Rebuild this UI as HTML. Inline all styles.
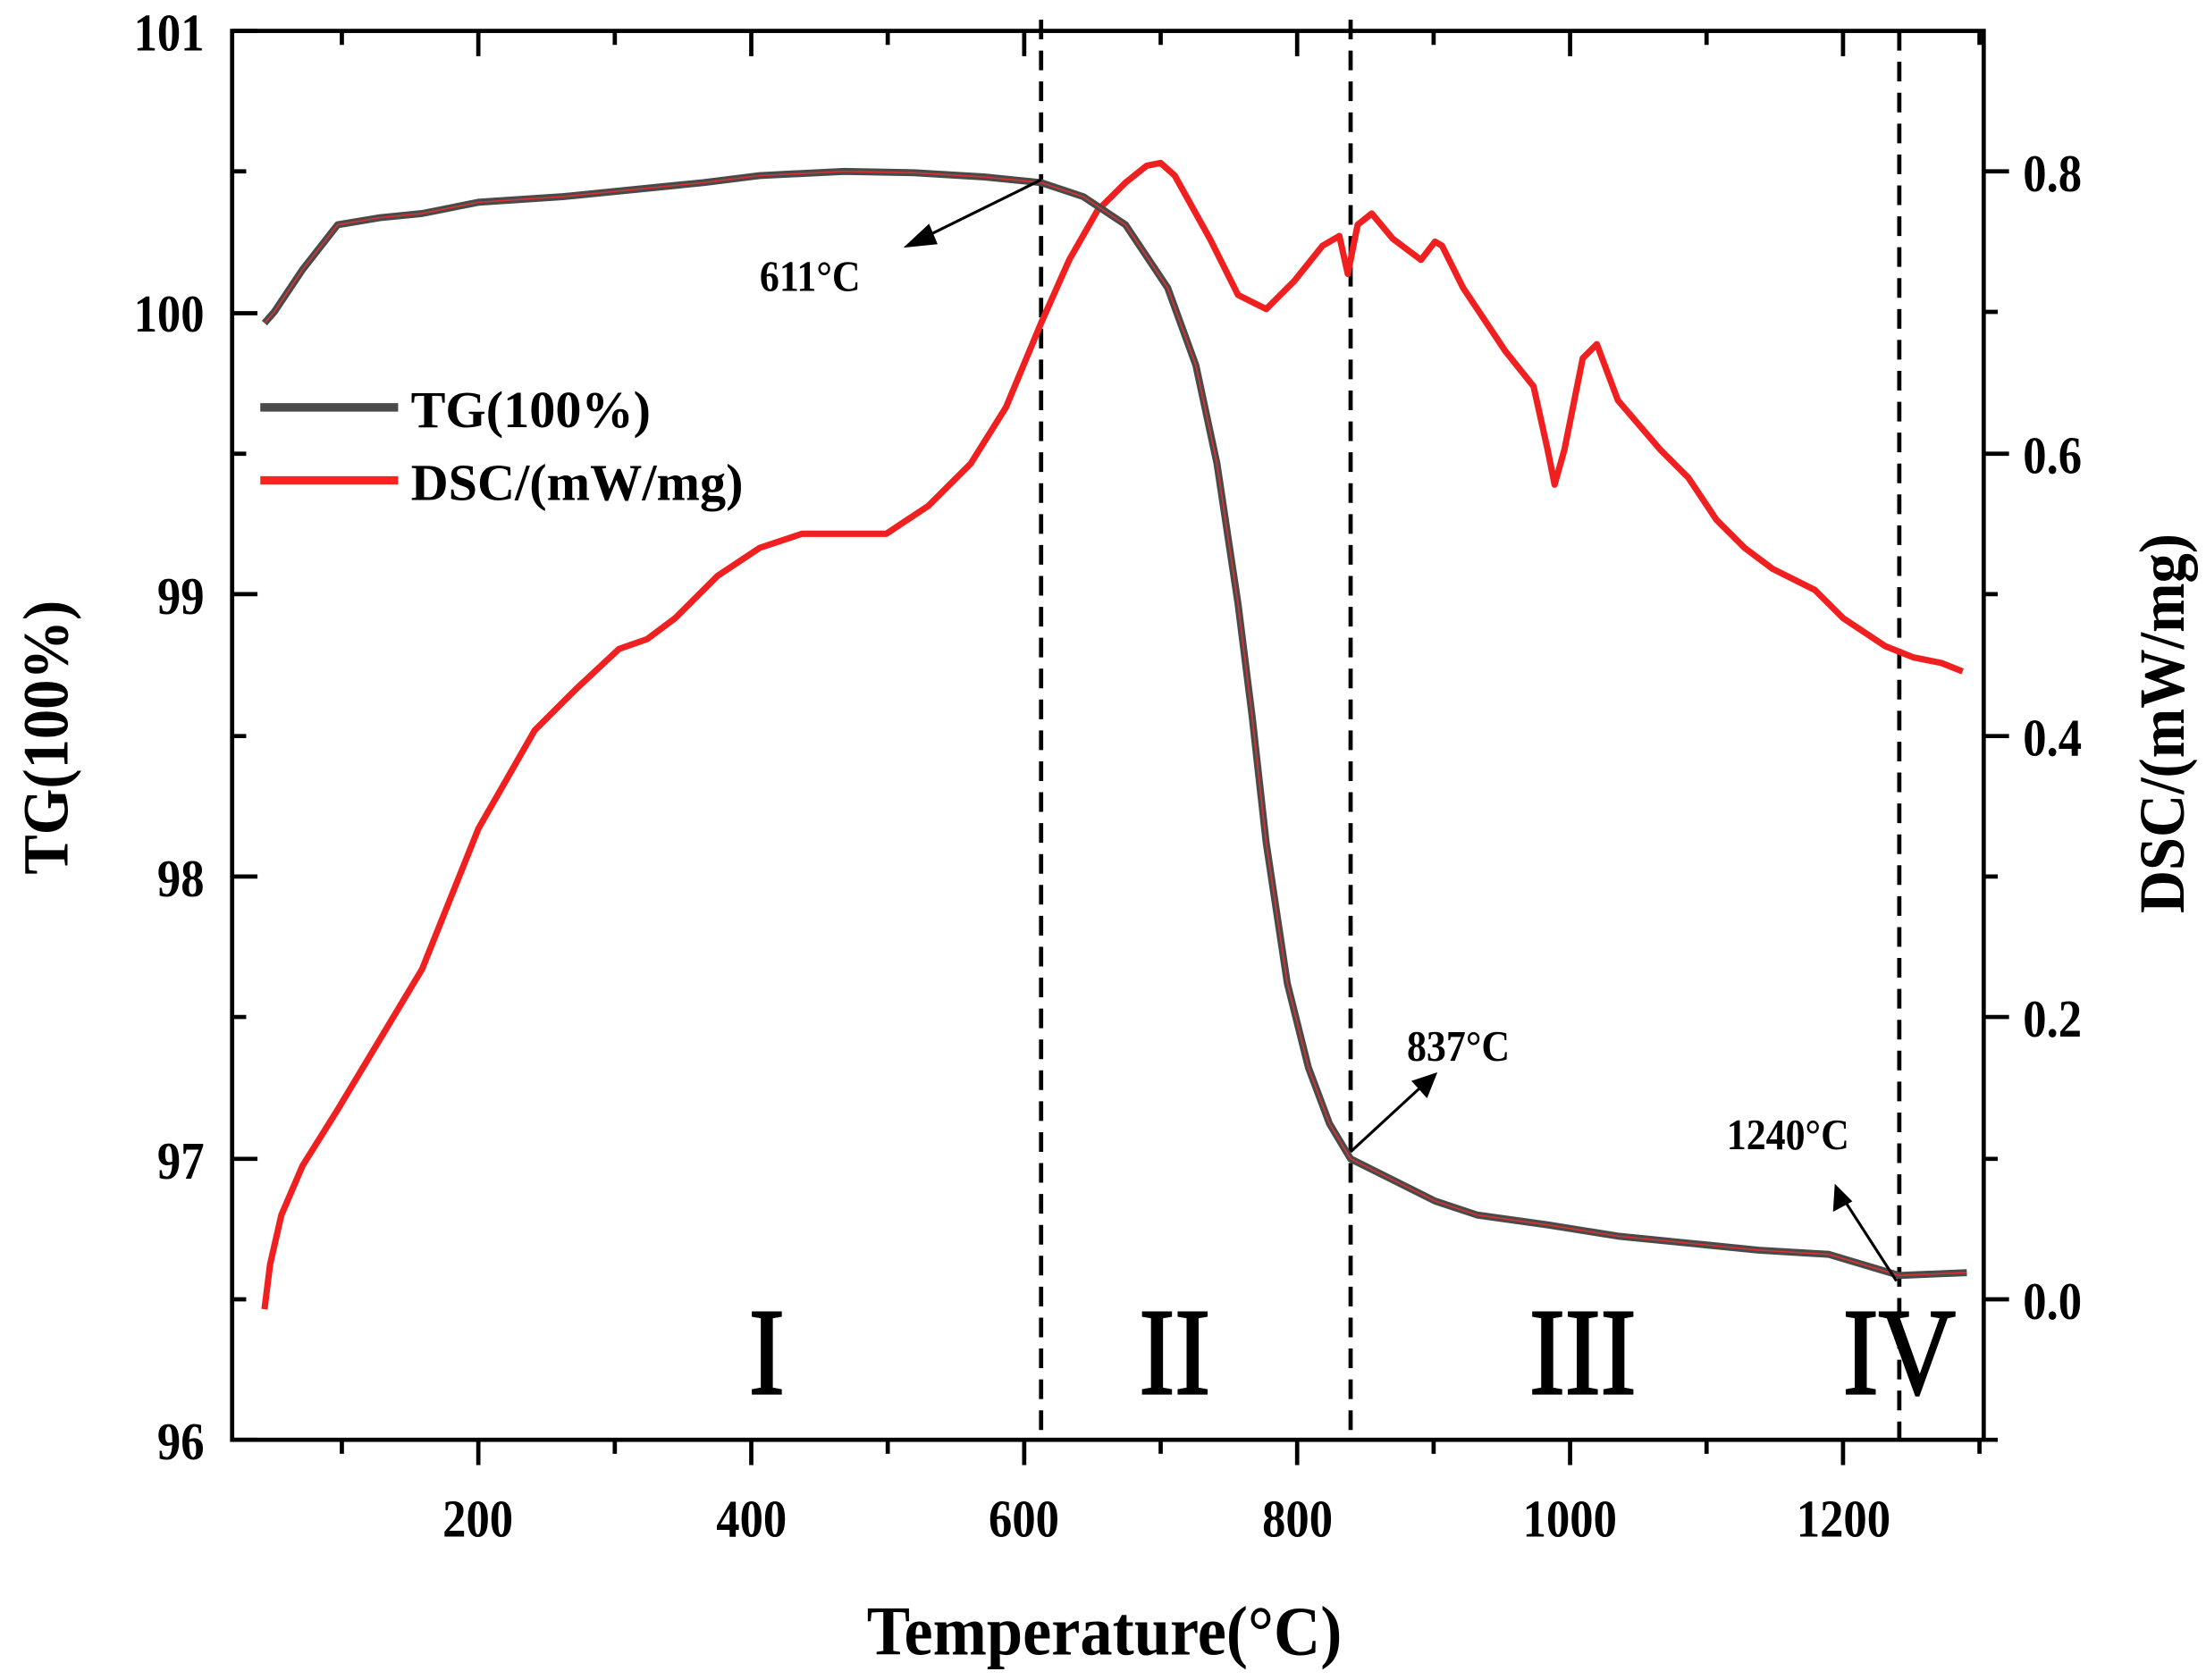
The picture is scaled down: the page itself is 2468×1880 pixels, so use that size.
<!DOCTYPE html>
<html><head><style>html,body{margin:0;padding:0;background:#fff}svg{display:block}</style></head>
<body>
<svg width="2468" height="1880" viewBox="0 0 1568 1196" preserveAspectRatio="none" xmlns="http://www.w3.org/2000/svg" font-family="Liberation Serif, serif">
<rect width="1568" height="1196" fill="#fff"/>
<g stroke="#000" stroke-width="3" fill="none">
<rect x="165" y="22" width="1245" height="1003"/>
<path d="M243,1025v10M340,1025v18M437,1025v10M534,1025v18M631,1025v10M728,1025v18M825,1025v10M922,1025v18M1019,1025v10M1116,1025v18M1213,1025v10M1310,1025v18M1407,1025v10"/>
<path d="M243,22v10M340,22v18M437,22v10M534,22v18M631,22v10M728,22v18M825,22v10M922,22v18M1019,22v10M1116,22v18M1213,22v10M1310,22v18M1407,22v10"/>
<path d="M165,22h18M165,122h10M165,223h18M165,323h10M165,423h18M165,524h10M165,624h18M165,724h10M165,825h18M165,925h10M165,1025h18"/>
<path d="M1410,122h18M1410,222h10M1410,323h18M1410,423h10M1410,524h18M1410,624h10M1410,724h18M1410,825h10M1410,925h18M1410,1025h10"/>
</g>
<g stroke="#000" stroke-width="3" stroke-dasharray="14,8">
<line x1="740" y1="14" x2="740" y2="1025"/>
<line x1="960" y1="14" x2="960" y2="1025"/>
<line x1="1350" y1="22" x2="1350" y2="1025"/>
</g>
<g font-weight="bold" font-size="38" fill="#000">
<g text-anchor="end" transform="scale(0.88,1)"><text x="165" y="36">101</text><text x="165" y="236">100</text><text x="165" y="437">99</text><text x="165" y="638">98</text><text x="165" y="839">97</text><text x="165" y="1039">96</text></g>
<g text-anchor="start" transform="scale(0.88,1)"><text x="1634" y="136">0.8</text><text x="1634" y="337">0.6</text><text x="1634" y="538">0.4</text><text x="1634" y="738">0.2</text><text x="1634" y="939">0.0</text></g>
<g text-anchor="middle" transform="scale(0.88,1)"><text x="386" y="1094">200</text><text x="607" y="1094">400</text><text x="827" y="1094">600</text><text x="1048" y="1094">800</text><text x="1268" y="1094">1000</text><text x="1489" y="1094">1200</text></g>
<text transform="translate(785,1178) scale(0.92,1)" text-anchor="middle" font-size="50">Temperature(°C)</text>
<text transform="translate(48,525) rotate(-90) scale(0.92,1)" text-anchor="middle" font-size="46">TG(100%)</text>
<text transform="translate(1552,515) rotate(-90) scale(0.92,1)" text-anchor="middle" font-size="46">DSC/(mW/mg)</text>
<text x="292" y="304" font-size="37">TG(100%)</text>
<text x="292" y="356" font-size="37">DSC/(mW/mg)</text>
<text x="540" y="207" font-size="31" transform="translate(54,0) scale(0.9,1)">611°C</text>
<text x="1000" y="755" font-size="31" transform="translate(100,0) scale(0.9,1)">837°C</text>
<text x="1227" y="818" font-size="31" transform="translate(123,0) scale(0.9,1)">1240°C</text>
</g>
<g font-size="80" text-anchor="middle" fill="#000" stroke="#000" stroke-width="1.5">
<text transform="translate(545,992) scale(0.95,1.1)">I</text><text transform="translate(835,992) scale(0.95,1.1)">II</text><text transform="translate(1125,992) scale(0.95,1.1)">III</text><text transform="translate(1350,992) scale(0.95,1.1)">IV</text>
</g>
<line x1="185" y1="290" x2="283" y2="290" stroke="#4a4a4a" stroke-width="6"/>
<line x1="185" y1="342" x2="283" y2="342" stroke="#f22" stroke-width="6"/>
<polyline fill="none" stroke="#f02020" stroke-width="4.5" stroke-linejoin="round" points="188,932 192,900 200,865 215,830 240,790 270,740 300,690 340,590 380,520 410,490 440,462 460,455 480,440 510,410 540,390 570,380 600,380 630,380 660,360 690,330 715,290 740,230 760,185 780,150 800,130 815,118 825,116 835,125 860,170 880,210 900,220 920,200 940,175 952,168 958,195 965,160 975,152 990,170 1010,185 1020,172 1025,175 1040,205 1070,250 1090,275 1100,320 1105,345 1112,320 1125,255 1135,245 1150,285 1180,320 1200,340 1220,370 1240,390 1260,405 1290,420 1310,440 1340,460 1360,468 1380,472 1395,478"/>
<polyline fill="none" stroke="#4a4a4a" stroke-width="5" stroke-linejoin="round" points="188,230 195,222 215,192 240,160 270,155 300,152 340,144 400,140 440,136 500,130 540,125 600,122 650,123 700,126 740,130 770,140 800,160 830,205 850,260 865,330 880,430 890,510 900,600 915,700 930,760 945,800 960,825 990,840 1020,855 1050,865 1100,872 1150,880 1200,885 1250,890 1300,893 1350,908 1398,906"/>
<polyline fill="none" stroke="#e03030" stroke-width="1" points="188,230 195,222 215,192 240,160 270,155 300,152 340,144 400,140 440,136 500,130 540,125 600,122 650,123 700,126 740,130 770,140 800,160 830,205 850,260 865,330 880,430 890,510 900,600 915,700 930,760 945,800 960,825 990,840 1020,855 1050,865 1100,872 1150,880 1200,885 1250,890 1300,893 1350,908 1398,906"/>
<g stroke="#000" stroke-width="2" fill="#000">
<line x1="740" y1="128" x2="655" y2="170"/><polygon points="645,175 660,161 665,173"/>
<line x1="960" y1="820" x2="1012" y2="772"/><polygon points="1020,765 1005,770 1014,780"/>
<line x1="1348" y1="912" x2="1310" y2="853"/><polygon points="1305,845 1304,861 1315,855"/>
</g>
</svg>
</body></html>
